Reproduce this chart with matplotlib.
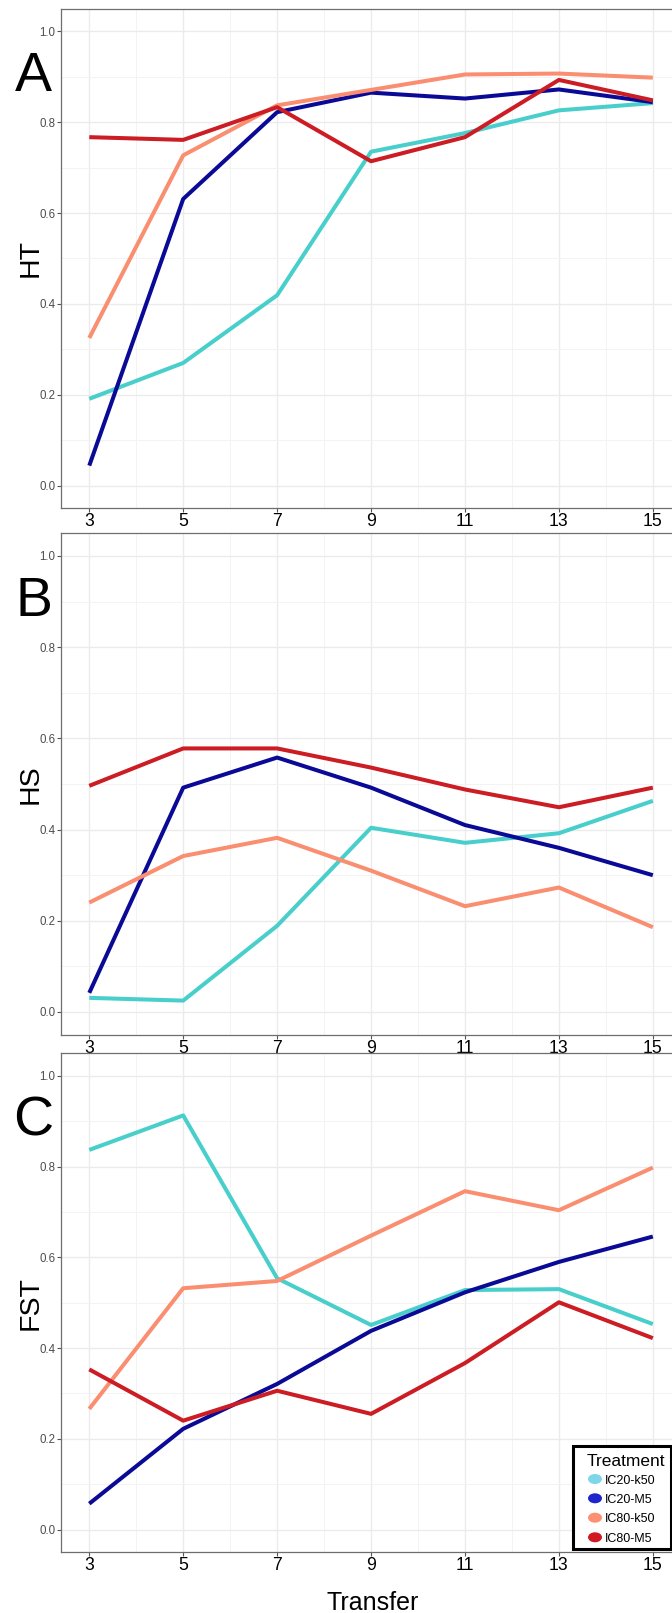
import matplotlib
matplotlib.use("Agg")
import matplotlib.pyplot as plt
from matplotlib.ticker import FixedLocator
from matplotlib.patches import Rectangle, Ellipse
import matplotlib.transforms as mtransforms

plt.rcParams["font.family"] = ["Liberation Sans", "DejaVu Sans"]

# ---- data ---------------------------------------------------------------
transfer = [3, 5, 7, 9, 11, 13, 15]
treatments = ["IC20-k50", "IC20-M5", "IC80-k50", "IC80-M5"]

ic20_k50_ht = [0.191, 0.270, 0.419, 0.735, 0.776, 0.826, 0.842]
ic20_m5_ht = [0.044, 0.631, 0.822, 0.865, 0.852, 0.872, 0.844]
ic80_k50_ht = [0.325, 0.727, 0.837, 0.871, 0.905, 0.907, 0.898]
ic80_m5_ht = [0.767, 0.761, 0.833, 0.714, 0.767, 0.893, 0.848]

ic20_k50_hs = [0.031, 0.025, 0.189, 0.404, 0.371, 0.392, 0.463]
ic20_m5_hs = [0.042, 0.492, 0.558, 0.492, 0.410, 0.360, 0.300]
ic80_k50_hs = [0.240, 0.342, 0.382, 0.310, 0.232, 0.273, 0.186]
ic80_m5_hs = [0.496, 0.578, 0.578, 0.536, 0.488, 0.449, 0.492]

ic20_k50_fst = [0.837, 0.913, 0.554, 0.451, 0.528, 0.530, 0.453]
ic20_m5_fst = [0.057, 0.222, 0.321, 0.438, 0.523, 0.590, 0.646]
ic80_k50_fst = [0.266, 0.532, 0.548, 0.648, 0.746, 0.704, 0.798]
ic80_m5_fst = [0.353, 0.240, 0.306, 0.255, 0.367, 0.501, 0.422]

panel_letters = ["A", "B", "C"]
panel_ylabels = ["HT", "HS", "FST"]
x_ticks = [3, 5, 7, 9, 11, 13, 15]
y_ticks = [0.0, 0.2, 0.4, 0.6, 0.8, 1.0]

panels = [
    [ic20_k50_ht, ic20_m5_ht, ic80_k50_ht, ic80_m5_ht],
    [ic20_k50_hs, ic20_m5_hs, ic80_k50_hs, ic80_m5_hs],
    [ic20_k50_fst, ic20_m5_fst, ic80_k50_fst, ic80_m5_fst],
]

line_colors = ["#48CFCB", "#0A0A96", "#FA8E70", "#CC1C24"]
key_colors = ["#7ED6E8", "#1F25CC", "#FC9072", "#D01A22"]

# ---- figure layout (pixel geometry at 100 dpi) ---------------------------
W, H = 672, 1613
fig = plt.figure(figsize=(W / 100, H / 100), dpi=100)


def fx(x):
    return x / W


def fy(y):
    return 1 - y / H


ax_left, ax_right = 61.1, 681.0
panel_tb = [(8.6, 508.3), (533.2, 1034.8), (1053.3, 1552.2)]

axes = []
for top, bot in panel_tb:
    ax = fig.add_axes([fx(ax_left), fy(bot), fx(ax_right - ax_left), (bot - top) / H])
    axes.append(ax)

for i, ax in enumerate(axes):
    for series, color in zip(panels[i], line_colors):
        ax.plot(transfer, series, color=color, lw=2.9, solid_capstyle="butt",
                solid_joinstyle="round", zorder=3)

    ax.set_xlim(2.4, 15.6)
    ax.set_ylim(-0.05, 1.05)
    ax.xaxis.set_major_locator(FixedLocator(x_ticks))
    ax.xaxis.set_minor_locator(FixedLocator([4, 6, 8, 10, 12, 14]))
    ax.yaxis.set_major_locator(FixedLocator(y_ticks))
    ax.yaxis.set_minor_locator(FixedLocator([0.1, 0.3, 0.5, 0.7, 0.9]))
    ax.set_yticklabels([f"{v:.1f}" for v in y_ticks])

    ax.grid(which="major", color="#EBEBEB", lw=1.0, zorder=0)
    ax.grid(which="minor", color="#F3F3F3", lw=0.7, zorder=0)
    ax.set_axisbelow(True)

    ax.tick_params(axis="y", which="major", length=3, width=0.8, color="#555555",
                   labelsize=8.3, labelcolor="#4D4D4D", pad=1)
    ax.tick_params(axis="x", which="major", length=2.7, width=0.8, color="#555555",
                   labelsize=12.7, labelcolor="black", pad=1)
    ax.tick_params(which="minor", length=0)

    for sp in ax.spines.values():
        sp.set_color("#6E6E6E")
        sp.set_linewidth(0.9)

    # y-axis title
    ytrans = mtransforms.blended_transform_factory(fig.transFigure, ax.transAxes)
    ax.text(fx(31), 0.5, panel_ylabels[i], transform=ytrans, rotation=90,
            ha="center", va="center", fontsize=20.5, color="black")

    # panel letter
    ltrans = mtransforms.blended_transform_factory(fig.transFigure, ax.transData)
    ax.text(fx(33.5), 0.868, panel_letters[i], transform=ltrans, ha="center",
            va="baseline", fontsize=40, color="black", clip_on=False)

# x-axis title
fig.text(fx(373), fy(1610), "Transfer", ha="center", va="baseline", fontsize=18)

# ---- legend in the lower-right corner of the last panel ------------------
lax = axes[-1]
box = Rectangle((fx(573), fy(1549)), fx(671) - fx(573), fy(1446) - fy(1549),
                transform=fig.transFigure, facecolor="white", edgecolor="black",
                lw=2.2, zorder=10, clip_on=False)
lax.add_artist(box)
lax.text(fx(586.7), fy(1466), "Treatment", transform=fig.transFigure,
         ha="left", va="baseline", fontsize=12.5, zorder=11)
row_y = [1479.0, 1498.3, 1517.7, 1537.3]
for name, color, ry in zip(treatments, key_colors, row_y):
    key = Ellipse((fx(595), fy(ry)), fx(14), 10 / H, transform=fig.transFigure,
                  facecolor=color, edgecolor="none", zorder=11, clip_on=False)
    lax.add_artist(key)
    lax.text(fx(605), fy(ry + 4.5), name, transform=fig.transFigure,
             ha="left", va="baseline", fontsize=9, zorder=11)

fig.savefig("out.png", dpi=100)
